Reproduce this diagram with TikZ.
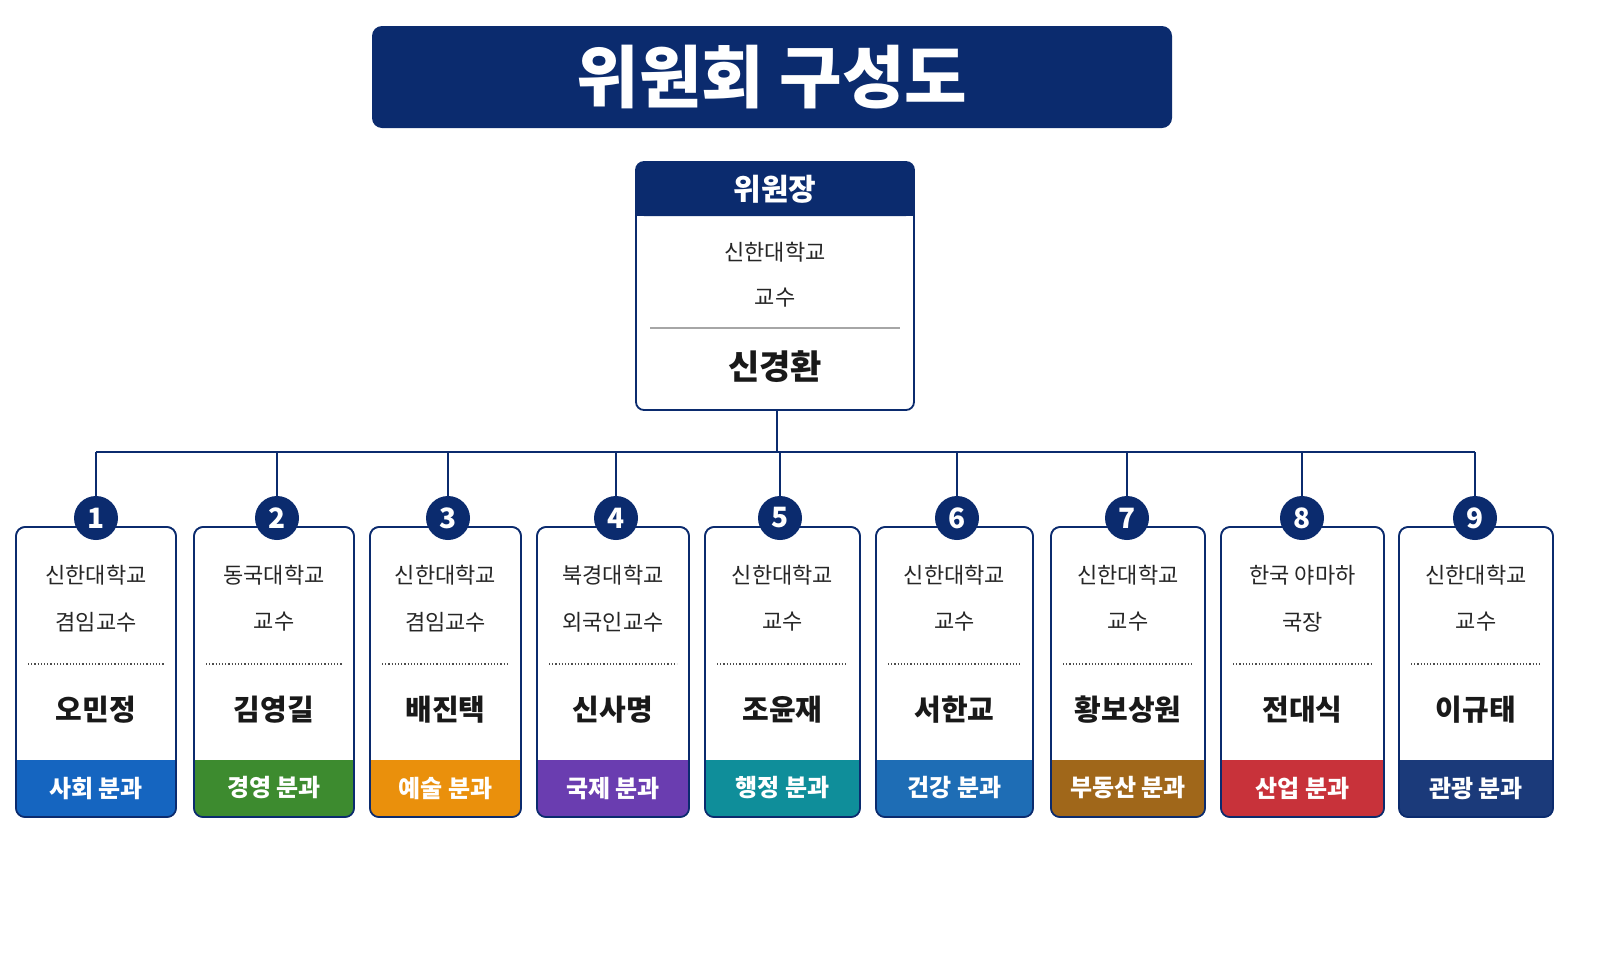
\documentclass[tikz,border=0pt]{standalone}
\usepackage{fontspec}
\setmainfont{Noto Sans CJK KR}
\begin{document}
\begin{tikzpicture}[x=1pt,y=-1pt,
  small/.style={font=\fontsize{22}{22}\selectfont, text=black!85},
  pname/.style={font=\fontsize{29}{29}\selectfont\bfseries, text=black!90},
  band/.style={font=\fontsize{24}{24}\selectfont\bfseries, text=white},
  num/.style={circle, fill=navyc, minimum size=44pt, inner sep=0pt, text=white, font=\fontsize{28}{28}\selectfont\bfseries},
  conn/.style={draw=navyc, line width=1.8pt}]
\definecolor{navyc}{HTML}{0B2B6E}
\useasboundingbox (0,0) rectangle (1612,975);
\fill[white] (0,0) rectangle (1612,975);
% title
\node[fill=navyc, rounded corners=10pt, minimum width=800pt, minimum height=102pt, text=white, font=\fontsize{68}{68}\selectfont\bfseries] (title) at (772,77) {위원회 구성도};
% chair
\draw[navyc, line width=1.8pt, rounded corners=8pt, fill=white] (636,162) rectangle (914,410);
\fill[navyc, rounded corners=8pt] (636,162) rectangle (914,216);
\fill[navyc] (636,200) rectangle (914,216);
\node[text=white, font=\fontsize{30}{30}\selectfont\bfseries] (chh) at (775,189) {위원장};
\node[small] (c1) at (775,252) {신한대학교};
\node[small] (c2) at (775,298) {교수};
\draw[gray!70, line width=1.2pt] (650,328) -- (900,328);
\node[pname, font=\fontsize{34}{34}\selectfont\bfseries] (cn) at (775,367) {신경환};
\coordinate (cb) at (777,410);
\coordinate (cj) at (777,452);
\draw[conn] (cb) -- (cj);
\draw[conn] (96,452) -- (1475,452);
\foreach \i/\l/\r/\cx/\aff/\pos/\nm/\bd/\col in {
 1/16/176/96/신한대학교/겸임교수/오민정/사회 분과/1565C0,
 2/194/354/277/동국대학교/교수/김영길/경영 분과/3D8B2F,
 3/370/521/448/신한대학교/겸임교수/배진택/예술 분과/EA900C,
 4/537/689/616/북경대학교/외국인교수/신사명/국제 분과/6A3DB0,
 5/705/860/780/신한대학교/교수/조윤재/행정 분과/0F8E9A,
 6/876/1033/957/신한대학교/교수/서한교/건강 분과/1E6DB5,
 7/1051/1205/1127/신한대학교/교수/황보상원/부동산 분과/A0671A,
 8/1221/1384/1302/한국 야마하/국장/전대식/산업 분과/C8323A,
 9/1399/1553/1475/신한대학교/교수/이규태/관광 분과/1B3A7A}{
 \definecolor{bc}{HTML}{\col}
 \pgfmathsetmacro{\mx}{(\l+\r)/2}
 \draw[navyc, line width=1.6pt, rounded corners=9pt, fill=white] (\l,527) rectangle (\r,817);
 \fill[bc, rounded corners=9pt] (\l,760) rectangle (\r,817);
 \fill[bc] (\l,760) rectangle (\r,780);
 \draw[navyc, line width=1.6pt, rounded corners=9pt] (\l,527) rectangle (\r,817);
 \node[small] (a\i) at (\mx,575) {\aff};
 \node[small] (p\i) at (\mx,622) {\pos};
 \draw[black!70, line width=1.2pt, dotted] (\l+12,664) -- (\r-12,664);
 \node[pname] (n\i) at (\mx,710) {\nm};
 \node[band] (b\i) at (\mx,788) {\bd};
 \node[num] (k\i) at (\cx,518) {\i};
 \draw[conn] (\cx,452) -- (k\i.north);
}
\end{tikzpicture}
\end{document}
